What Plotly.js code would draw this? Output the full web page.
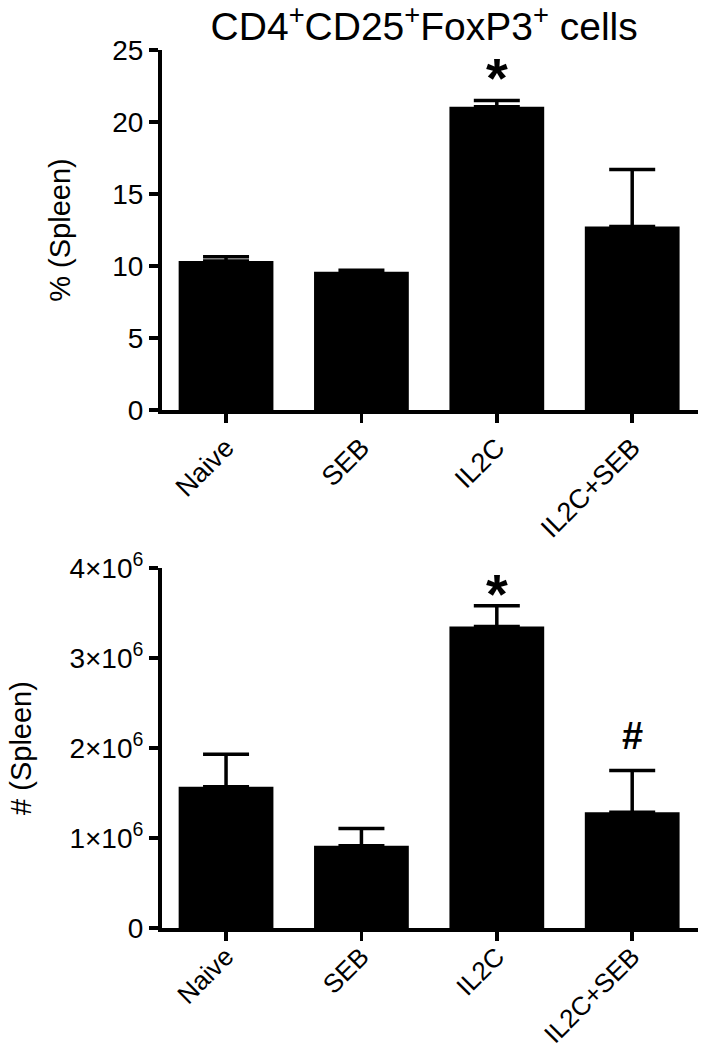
<!DOCTYPE html>
<html>
<head>
<meta charset="utf-8">
<script src="https://cdn.plot.ly/plotly-3.0.1.min.js"></script>
<style>
  body { margin: 0; background: #fff; }
  #chart { width: 707px; height: 1050px; }
</style>
</head>
<body>
<div id="chart"></div>
<script>
const groups = ['Naive', 'SEB', 'IL2C', 'IL2C+SEB'];

// % of spleen cells (mean, SEM)
const pctMean = [10.35, 9.6, 21.05, 12.75];
const pctSem = [0.3, 0.1, 0.45, 3.95];

// absolute number in spleen (mean, SEM)
const countMean = [1.57e6, 0.915e6, 3.35e6, 1.285e6];
const countSem = [0.36e6, 0.19e6, 0.23e6, 0.465e6];

const countTicks = [0, 1e6, 2e6, 3e6, 4e6];
const countTickText = ['0', '1×10<sup>6</sup>', '2×10<sup>6</sup>', '3×10<sup>6</sup>', '4×10<sup>6</sup>'];

const font = 'Liberation Sans, Arial, sans-serif';

function barTrace(y, err, xa, ya) {
    return {
        type: 'bar',
        x: groups,
        y: y,
        xaxis: xa,
        yaxis: ya,
        width: 0.7,
        marker: {color: '#000'},
        error_y: {
            type: 'data',
            symmetric: false,
            array: err,
            arrayminus: err.map(() => 0),
            color: '#000',
            thickness: 3.5,
            width: 23
        },
        hoverinfo: 'none'
    };
}

const data = [
    barTrace(pctMean, pctSem, 'x', 'y'),
    barTrace(countMean, countSem, 'x2', 'y2')
];

const xBase = {
    type: 'category',
    range: [-0.473, 3.486],
    showline: true,
    linewidth: 4,
    linecolor: '#000',
    ticks: 'outside',
    ticklen: 9,
    tickwidth: 3.5,
    tickcolor: '#000',
    tickangle: -45,
    tickfont: {family: font, size: 27, color: '#000'},
    showgrid: false,
    zeroline: false,
    fixedrange: true
};

const yBase = {
    showline: true,
    linewidth: 4,
    linecolor: '#000',
    ticks: 'outside',
    ticklen: 9,
    tickwidth: 3.5,
    tickcolor: '#000',
    tickfont: {family: font, size: 28, color: '#000'},
    showgrid: false,
    zeroline: false,
    fixedrange: true
};

const layout = {
    width: 707,
    height: 1050,
    margin: {l: 162, r: 9, t: 0, b: 0},
    paper_bgcolor: '#fff',
    plot_bgcolor: '#fff',
    showlegend: false,
    title: {
        text: 'CD4<sup>+</sup>CD25<sup>+</sup>FoxP3<sup>+</sup> cells',
        font: {family: font, size: 39, color: '#000'},
        xref: 'container',
        x: 0.6,
        xanchor: 'center',
        yref: 'container',
        y: 0.975,
        yanchor: 'middle'
    },
    xaxis: Object.assign({}, xBase, {anchor: 'y', ticklabelstandoff: -2}),
    yaxis: Object.assign({}, yBase, {
        domain: [0.6095, 0.9524],
        anchor: 'x',
        range: [0, 25],
        tickvals: [0, 5, 10, 15, 20, 25],
        title: {text: '% (Spleen)', font: {family: font, size: 29, color: '#000'}, standoff: 34}
    }),
    xaxis2: Object.assign({}, xBase, {
        anchor: 'y2',
        ticklabelstandoff: -10,
        tickfont: {family: font, size: 26, color: '#000'}
    }),
    yaxis2: Object.assign({}, yBase, {
        domain: [0.1162, 0.459],
        anchor: 'x2',
        range: [0, 4e6],
        tickvals: countTicks,
        ticktext: countTickText,
        title: {text: '# (Spleen)', font: {family: font, size: 29, color: '#000'}, standoff: 30}
    }),
    annotations: [
        {xref: 'x', yref: 'y', x: 'IL2C', y: 23.1, text: '<b>*</b>', showarrow: false,
         yanchor: 'middle', font: {family: font, size: 56, color: '#000'}},
        {xref: 'x2', yref: 'y2', x: 'IL2C', y: 3.72e6, text: '<b>*</b>', showarrow: false,
         yanchor: 'middle', font: {family: font, size: 56, color: '#000'}},
        {xref: 'x2', yref: 'y2', x: 'IL2C+SEB', y: 2.13e6, text: '<b>#</b>', showarrow: false,
         yanchor: 'middle', font: {family: font, size: 38, color: '#000'}}
    ]
};

Plotly.newPlot('chart', data, layout, {displayModeBar: false, staticPlot: true});
</script>
</body>
</html>
